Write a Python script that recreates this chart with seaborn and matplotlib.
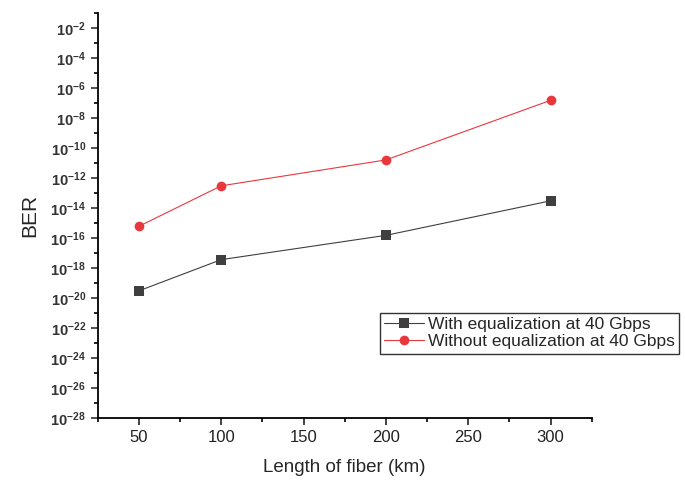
import numpy as np
import pandas as pd
import matplotlib
matplotlib.use("Agg")
import matplotlib.pyplot as plt
import matplotlib.ticker as mticker
import seaborn as sns

# Fiber lengths (km) and measured bit error rates
lengths = [50, 100, 200, 300]
ber_with_eq = [3e-20, 3.6e-18, 1.5e-16, 3e-14]
ber_without_eq = [6e-16, 3e-13, 1.6e-11, 1.5e-7]
series_names = ["With equalization at 40 Gbps", "Without equalization at 40 Gbps"]

df = pd.DataFrame({
    "Length": lengths * 2,
    "BER": ber_with_eq + ber_without_eq,
    "Series": [series_names[0]] * len(lengths) + [series_names[1]] * len(lengths),
})

sns.set_style("ticks")
plt.rcParams["font.family"] = ["Liberation Sans", "DejaVu Sans"]
plt.rcParams["mathtext.fontset"] = "custom"
plt.rcParams["mathtext.rm"] = "Liberation Sans"
plt.rcParams["mathtext.it"] = "Liberation Sans"
plt.rcParams["mathtext.bf"] = "Liberation Sans:bold"

fig = plt.figure(figsize=(6.85, 4.86), dpi=100)
ax = fig.add_axes([0.1426, 0.1399, 0.7212, 0.8334])

palette = {series_names[0]: "#3f3f3f", series_names[1]: "#e8383d"}
sns.lineplot(data=df, x="Length", y="BER", hue="Series", style="Series",
             palette=palette, markers={series_names[0]: "s", series_names[1]: "o"},
             dashes=False, markersize=7, linewidth=0.8, markeredgewidth=0,
             ax=ax, legend=True)

ax.set_yscale("log")
ax.set_ylim(1e-28, 1e-1)
ax.set_xlim(25, 325)

ax.xaxis.set_major_locator(mticker.FixedLocator([50, 100, 150, 200, 250, 300]))
ax.xaxis.set_minor_locator(mticker.FixedLocator([25, 75, 125, 175, 225, 275, 325]))
ax.xaxis.set_minor_formatter(mticker.NullFormatter())
major_exp = list(range(-28, -1, 2))
ax.yaxis.set_major_locator(mticker.FixedLocator([10.0 ** e for e in major_exp]))
ax.yaxis.set_minor_locator(mticker.FixedLocator([10.0 ** e for e in range(-27, 0, 2)]))
ax.yaxis.set_major_formatter(mticker.FuncFormatter(
    lambda v, p: r"$\mathbf{10^{%d}}$" % int(round(np.log10(v)))))
ax.yaxis.set_minor_formatter(mticker.NullFormatter())

ax.tick_params(axis="both", which="major", direction="out", length=5, width=1.2,
               color="black")
ax.tick_params(axis="both", which="minor", direction="out", length=3, width=1.2,
               color="black")
ax.tick_params(axis="y", labelsize=10.5, colors="#333333")
ax.tick_params(axis="x", labelsize=12, colors="#222222")

sns.despine(ax=ax)
for side in ("left", "bottom"):
    ax.spines[side].set_linewidth(1.3)
    ax.spines[side].set_color("black")

ax.set_xlabel("Length of fiber (km)", fontsize=13.5, labelpad=10)
ax.set_ylabel("BER", fontsize=15, labelpad=8)

handles, labels = ax.get_legend_handles_labels()
leg = ax.legend(handles, labels, loc="upper left",
                bbox_to_anchor=(380 / 685, (486 - 313) / 486),
                bbox_transform=fig.transFigure, borderaxespad=0,
                frameon=True, fancybox=False, fontsize=12.5,
                handlelength=2.3, handletextpad=0.2, borderpad=0.25,
                labelspacing=0.1)
leg.get_frame().set_edgecolor("black")
leg.get_frame().set_linewidth(1.0)

fig.savefig("out.png", dpi=100)
